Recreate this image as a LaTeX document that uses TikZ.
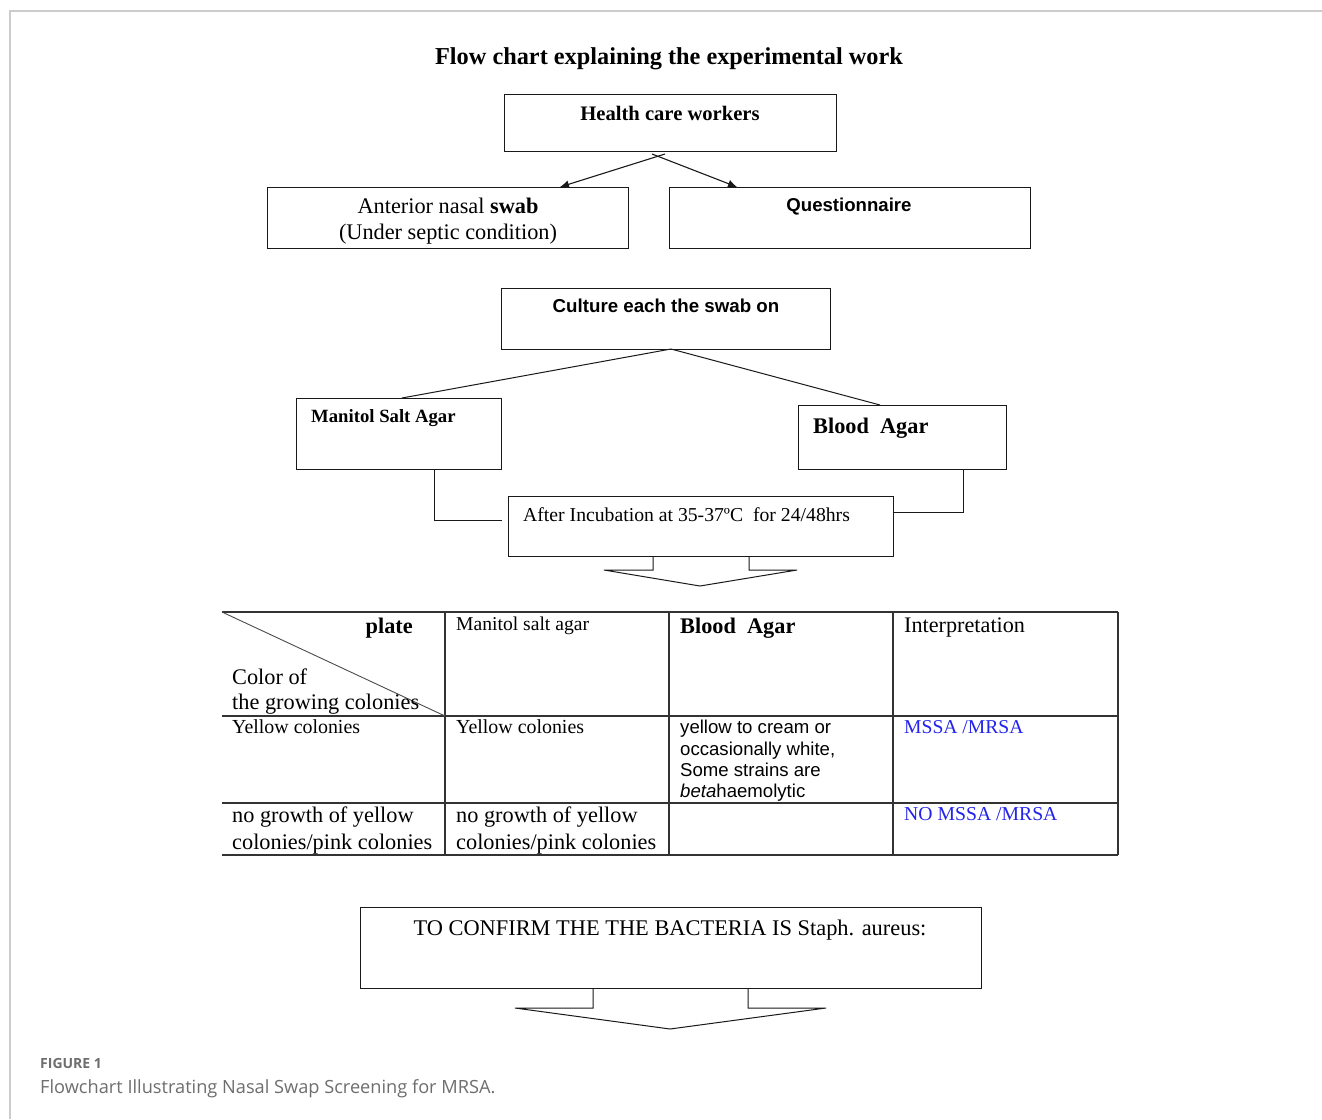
\documentclass[tikz,border=0pt]{standalone}
\usepackage{fontspec}
\setmainfont{Liberation Serif}
\setsansfont{Liberation Sans}
\newfontfamily\capfont{Open Sans}
\usetikzlibrary{arrows.meta}
\definecolor{lnk}{RGB}{35,35,235}
\definecolor{capgray}{RGB}{110,110,110}
\begin{document}
\begin{tikzpicture}[x=1pt,y=-1pt,
  box/.style={draw=black!90, line width=1.1pt, inner sep=0pt, anchor=north west},
  conn/.style={draw=black!90, line width=1pt},
  arr/.style={conn, line width=1.1pt, -{Latex[length=9pt,width=8pt]}},
  txt/.style={inner sep=0pt, anchor=base west},
  ctxt/.style={inner sep=0pt, anchor=base},
  tl/.style={line width=1.1pt, draw=black!80}]
\useasboundingbox (0,0) rectangle (1322,1119);
\fill[white] (0,0) rectangle (1322,1119);
\draw[black!20, line width=1.2pt] (1322,11) -- (10,11) -- (10,1119);

% title
\node[ctxt, font=\fontsize{24.3}{28}\selectfont\bfseries] (title) at (669,64) {Flow chart explaining the experimental work};

% top boxes
\node[box, minimum width=332pt, minimum height=57pt] (hcw) at (504,94) {};
\node[ctxt, font=\fontsize{20.6}{24}\selectfont\bfseries] (hcwt) at (670,120) {Health care workers};

\node[box, minimum width=361pt, minimum height=61pt] (ans) at (267,187) {};
\node[ctxt, font=\fontsize{22.3}{26}\selectfont] (anst1) at (448,213) {Anterior nasal \textbf{swab}};
\node[ctxt, font=\fontsize{22.3}{26}\selectfont] (anst2) at (448,239) {(Under septic condition)};

\node[box, minimum width=361pt, minimum height=61pt] (q) at (669,187) {};
\node[ctxt, font=\fontsize{18.6}{22}\selectfont\sffamily\bfseries] (qt) at (849,211) {Questionnaire};

\coordinate (hs1) at (665,154);
\coordinate (hs2) at (652,154);
\coordinate (an) at (560,187);
\coordinate (qn) at (737,187);
\draw[arr] (hs1) -- (an);
\draw[arr] (hs2) -- (qn);

% culture
\node[box, minimum width=329pt, minimum height=61pt] (cul) at (501,288) {};
\node[ctxt, font=\fontsize{18.7}{22}\selectfont\sffamily\bfseries] (cult) at (666,312) {Culture each the swab on};

\node[box, minimum width=205pt, minimum height=71pt] (msa) at (296,398) {};
\node[txt, font=\fontsize{18.7}{22}\selectfont\bfseries] (msat) at (311,422) {Manitol Salt Agar};

\node[box, minimum width=208pt, minimum height=64pt] (ba) at (798,405) {};
\node[txt, font=\fontsize{22.3}{26}\selectfont\bfseries] (bat) at (813,433) {Blood\ \ Agar};

\coordinate (cs) at (671,349);
\coordinate (msan) at (402,398);
\coordinate (ban) at (880,405);
\draw[conn] (cs) -- (msan);
\draw[conn] (cs) -- (ban);

% incubation
\node[box, minimum width=385pt, minimum height=60pt] (inc) at (508,496) {};
\node[txt, font=\fontsize{19.7}{23}\selectfont] (inct) at (523,521) {After Incubation at 35-37ºC\ \ for 24/48hrs};

\coordinate (msas) at (434,469);
\coordinate (incw) at (502,520);
\coordinate (bas) at (963,469);
\coordinate (ince) at (893,512);
\draw[conn] (msas) |- (incw);
\draw[conn] (bas) |- (ince);

% block arrow 1
\coordinate (incs1) at (653,556);
\coordinate (incs2) at (749,556);
\draw[conn] (incs1) -- (653,570) -- (604,570) -- (700,586) -- (797,570) -- (749,570) -- (incs2);

% table
\draw[tl] (222,612) -- (1118,612);
\draw[tl] (222,716) -- (1118,716);
\draw[tl] (222,803) -- (1118,803);
\draw[tl] (222,855) -- (1118,855);
\foreach \cx in {445,669,893,1118} \draw[tl] (\cx,612) -- (\cx,855);
\draw[line width=0.9pt, draw=black!70] (222,612) -- (445,716);

\node[inner sep=0pt, anchor=base east, font=\fontsize{22.3}{26}\selectfont\bfseries] (plate) at (413,633) {plate};
\node[txt, font=\fontsize{22.3}{26}\selectfont] (col1) at (232,684) {Color of};
\node[txt, font=\fontsize{22.3}{26}\selectfont] (col2) at (232,709) {the growing colonies};
\node[txt, font=\fontsize{19.6}{23}\selectfont] (h2) at (456,630) {Manitol salt agar};
\node[txt, font=\fontsize{22.3}{26}\selectfont\bfseries] (h3) at (680,633) {Blood\ \ Agar};
\node[txt, font=\fontsize{22.2}{26}\selectfont] (h4) at (904,632) {Interpretation};

\node[txt, font=\fontsize{19.9}{23}\selectfont] (r1c1) at (232,733) {Yellow colonies};
\node[txt, font=\fontsize{19.9}{23}\selectfont] (r1c2) at (456,733) {Yellow colonies};
\node[txt, font=\fontsize{18.6}{22}\selectfont\sffamily] (r1c3a) at (680,733) {yellow to cream or};
\node[txt, font=\fontsize{18.6}{22}\selectfont\sffamily] (r1c3b) at (680,755) {occasionally white,};
\node[txt, font=\fontsize{18.6}{22}\selectfont\sffamily] (r1c3c) at (680,776) {Some strains are};
\node[txt, font=\fontsize{18.6}{22}\selectfont\sffamily] (r1c3d) at (680,797) {\textit{beta}haemolytic};
\node[txt, font=\fontsize{19.6}{23}\selectfont, text=lnk] (r1c4) at (904,733) {MSSA /MRSA};

\node[txt, font=\fontsize{22.3}{26}\selectfont] (r2c1a) at (232,822) {no growth of yellow};
\node[txt, font=\fontsize{22.3}{26}\selectfont] (r2c1b) at (232,849) {colonies/pink colonies};
\node[txt, font=\fontsize{22.3}{26}\selectfont] (r2c2a) at (456,822) {no growth of yellow};
\node[txt, font=\fontsize{22.3}{26}\selectfont] (r2c2b) at (456,849) {colonies/pink colonies};
\node[txt, font=\fontsize{19.7}{23}\selectfont, text=lnk] (r2c4) at (904,820) {NO MSSA /MRSA};

% confirm
\node[box, minimum width=621pt, minimum height=81pt] (conf) at (360,907) {};
\node[ctxt, font=\fontsize{22.4}{26}\selectfont] (conft) at (670,935) {TO CONFIRM THE THE BACTERIA IS Staph. aureus:};
\coordinate (cfs1) at (593,988);
\coordinate (cfs2) at (748,988);
\draw[conn] (cfs1) -- (593,1008) -- (515,1008) -- (670,1029) -- (826,1008) -- (748,1008) -- (cfs2);

% caption
\node[txt, font=\fontsize{14}{16}\capfont\bfseries, text=capgray] (fig) at (40,1068) {FIGURE 1};
\node[txt, font=\fontsize{18.2}{22}\capfont, text=capgray] (cap) at (40,1093) {Flowchart Illustrating Nasal Swap Screening for MRSA.};
\end{tikzpicture}
\end{document}
